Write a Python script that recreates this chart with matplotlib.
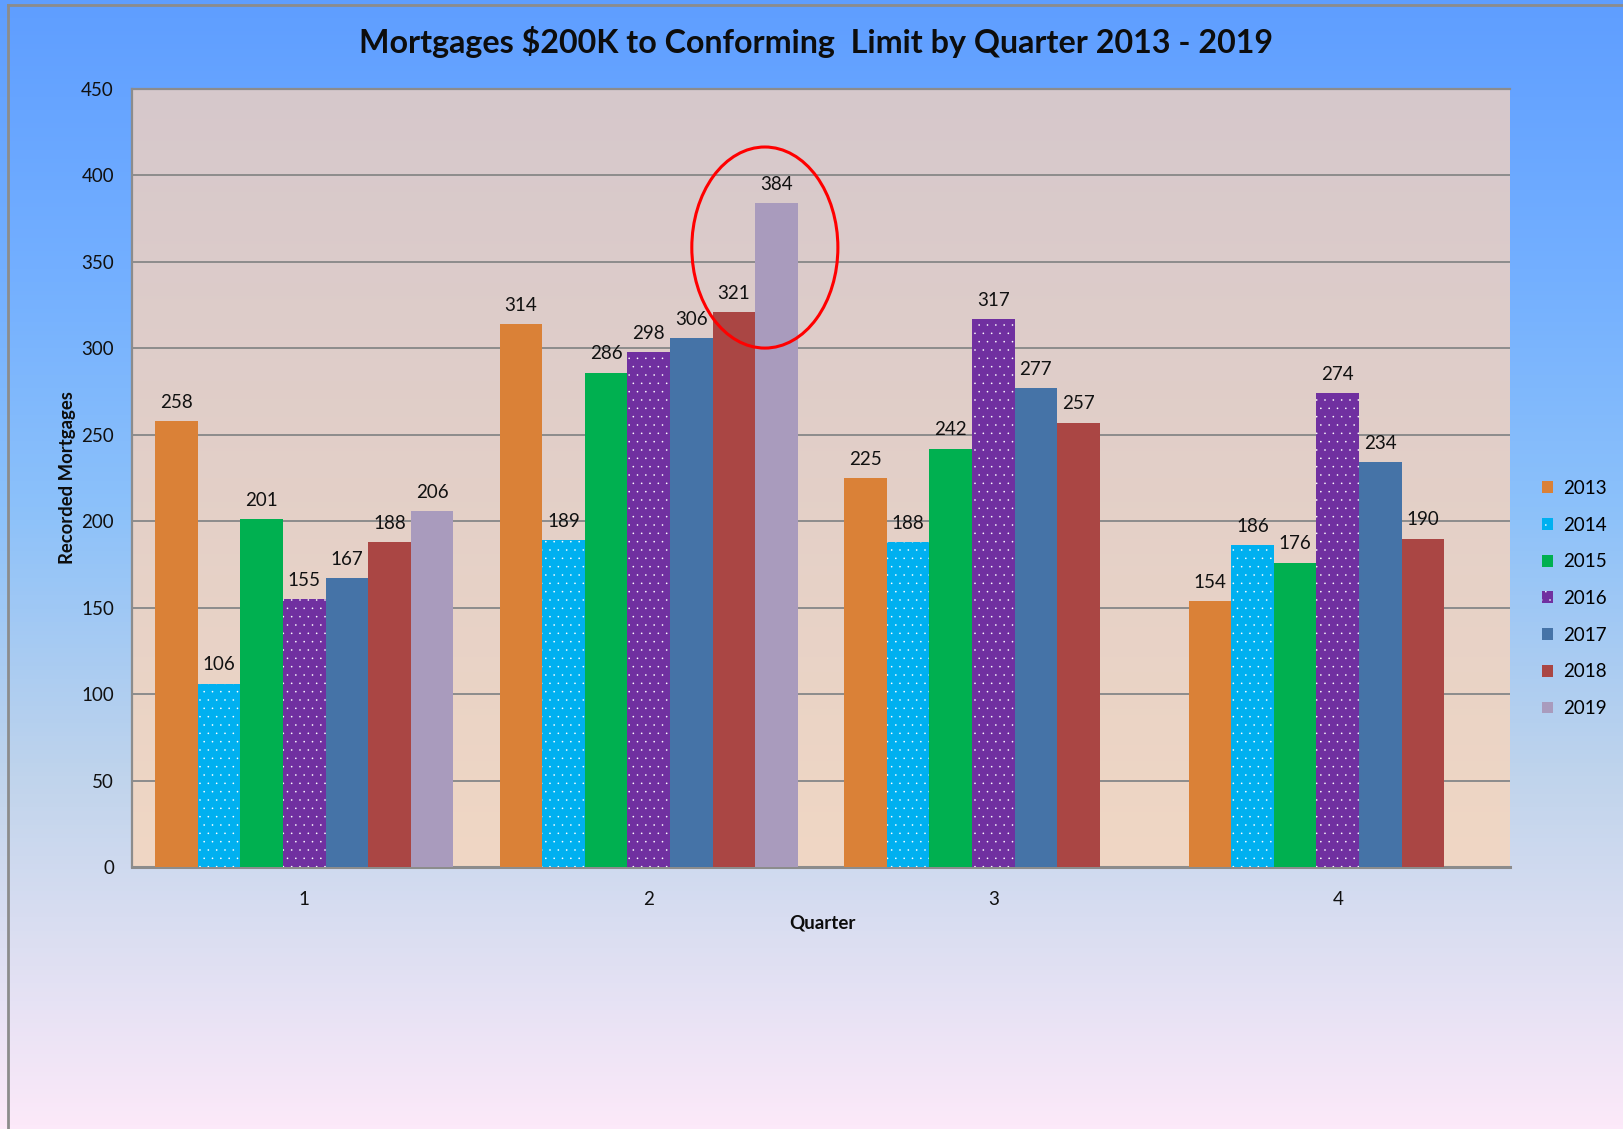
import numpy as np
import matplotlib
matplotlib.use('Agg')
import matplotlib.pyplot as plt
from matplotlib.colors import LinearSegmentedColormap
from matplotlib.patches import Ellipse
from matplotlib.lines import Line2D

plt.rcParams['font.family'] = ['Lato', 'DejaVu Sans']
plt.rcParams['hatch.linewidth'] = 0.0

# ── Data ──────────────────────────────────────────────────────────────────────
quarters = [1, 2, 3, 4]
years = ['2013', '2014', '2015', '2016', '2017', '2018', '2019']
v2013 = [258, 314, 225, 154]
v2014 = [106, 189, 188, 186]
v2015 = [201, 286, 242, 176]
v2016 = [155, 298, 317, 274]
v2017 = [167, 306, 277, 234]
v2018 = [188, 321, 257, 190]
v2019 = [206, 384, None, None]
series = [v2013, v2014, v2015, v2016, v2017, v2018, v2019]

colors = ['#DA8137', '#00B0F0', '#00B050', '#7030A0', '#4573A7', '#AA4644', '#A99BBD']
hatches = [None, '..', None, '..', None, None, None]

W, H = 1623, 1129
fig = plt.figure(figsize=(W / 100, H / 100), dpi=100)

# ── figure background gradient ────────────────────────────────────────────────
bg = fig.add_axes([0, 0, 1, 1], zorder=-10)
bg_cmap = LinearSegmentedColormap.from_list('bg', [
    (0.00, (95/255, 158/255, 255/255)),
    (0.25, (116/255, 176/255, 255/255)),
    (0.45, (140/255, 193/255, 250/255)),
    (0.69, (192/255, 212/255, 236/255)),
    (0.84, (221/255, 223/255, 242/255)),
    (1.00, (252/255, 233/255, 249/255)),
])
bg.imshow(np.linspace(0, 1, 256)[:, None], aspect='auto', cmap=bg_cmap,
          extent=[0, 1, 0, 1], origin='upper')
bg.set_xlim(0, 1)
bg.set_ylim(0, 1)
bg.axis('off')
# chart frame (left and top edges visible)
bg.add_line(Line2D([8 / W, 8 / W], [0, 1 - 5 / H], color='#8c8c8c', lw=2))
bg.add_line(Line2D([8 / W, 1], [1 - 5 / H, 1 - 5 / H], color='#8c8c8c', lw=2))

# ── plot area ─────────────────────────────────────────────────────────────────
left, right, top, bottom = 132, 1510, 89, 867
ax = fig.add_axes([left / W, 1 - bottom / H, (right - left) / W, (bottom - top) / H])
ax.patch.set_alpha(0)

pa_cmap = LinearSegmentedColormap.from_list('pa', [
    (0.0, (214/255, 200/255, 204/255)),
    (1.0, (240/255, 215/255, 196/255)),
])
ax.imshow(np.linspace(0, 1, 256)[:, None], aspect='auto', cmap=pa_cmap,
          extent=[0.5, 4.5, 0, 450], origin='upper', zorder=0)

x = np.array(quarters, dtype=float)
bw = 0.1236
for i, (vals, col, hat, yr) in enumerate(zip(series, colors, hatches, years)):
    xs = [xi + (i - 3) * bw for xi, v in zip(x, vals) if v is not None]
    ys = [v for v in vals if v is not None]
    ax.bar(xs, ys, width=bw, color=col, hatch=hat,
           edgecolor='white' if hat else col, linewidth=0, label=yr, zorder=3)
    for xx, yy in zip(xs, ys):
        ax.annotate(str(yy), (xx, yy), xytext=(0, 13.5), textcoords='offset points',
                    ha='center', va='center', fontsize=13.5, color='#111111', zorder=4)

ax.set_xlim(0.5, 4.5)
ax.set_ylim(0, 450)
ax.set_yticks(np.arange(0, 451, 50))
ax.set_xticks(quarters)
ax.tick_params(length=0, labelsize=13.5, colors='#111111')
ax.tick_params(axis='y', pad=13)
ax.tick_params(axis='x', pad=17)
ax.yaxis.grid(True, color='#8c8c8c', lw=1.4, zorder=1)
ax.set_axisbelow(True)
for s in ['left', 'top']:
    ax.spines[s].set_color('#8c8c8c')
    ax.spines[s].set_linewidth(1.6)
ax.spines['bottom'].set_color('#8c8c8c')
ax.spines['bottom'].set_linewidth(2.2)
ax.spines['right'].set_visible(False)

# highlight around the Q2 2019 bar
ax.add_patch(Ellipse((2.337, 358.3), 0.424, 116.3, fill=False, edgecolor='#FF0000',
                     lw=2.2, zorder=5))

# ── text ──────────────────────────────────────────────────────────────────────
fig.text(0.5025, 0.963, 'Mortgages $200K to Conforming  Limit by Quarter 2013 - 2019',
         ha='center', va='center', fontsize=23.2, fontweight='bold', color='#0d0d0d')
fig.text(0.0413, 0.577, 'Recorded Mortgages', rotation=90, ha='center', va='center',
         fontsize=13.3, fontweight='bold', color='#0d0d0d')
fig.text(0.5065, 0.1825, 'Quarter', ha='center', va='center',
         fontsize=13.5, fontweight='bold', color='#0d0d0d')

handles, labels = ax.get_legend_handles_labels()
fig.legend(handles, labels, loc='center left', bbox_to_anchor=(1542 / W, 1 - 598.5 / H),
           frameon=False, fontsize=13.5, handlelength=0.6, handleheight=0.6,
           handletextpad=0.5, labelspacing=1.05, borderpad=0, borderaxespad=0)

fig.savefig('out.png', dpi=100)
